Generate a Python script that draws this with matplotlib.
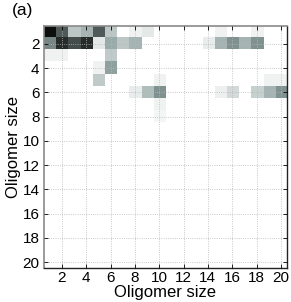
import matplotlib
matplotlib.use("Agg")
import matplotlib.pyplot as plt
import numpy as np
from matplotlib.colors import LinearSegmentedColormap

# sparse heatmap cells: row, column (1-based oligomer size), intensity
cell_rows = [1, 1, 1, 1, 1, 1, 1, 1, 1, 1,
             2, 2, 2, 2, 2, 2, 2, 2, 2, 2, 2, 2, 2,
             3, 3, 3,
             4, 4,
             5, 5, 5, 5,
             6, 6, 6, 6, 6, 6, 6, 6,
             7, 8]
cell_cols = [1, 2, 3, 4, 5, 6, 8, 9, 15, 18,
             1, 2, 3, 4, 5, 6, 7, 8, 14, 15, 16, 17, 18,
             1, 2, 6,
             5, 6,
             5, 10, 19, 20,
             8, 9, 10, 15, 16, 18, 19, 20,
             10, 10]
cell_vals = [0.95, 0.72, 0.30, 0.40, 0.72, 0.30, 0.07, 0.12, 0.07, 0.07,
             0.58, 0.86, 0.76, 0.86, 0.12, 0.45, 0.30, 0.40, 0.10, 0.40, 0.55, 0.40, 0.55,
             0.07, 0.07, 0.28,
             0.07, 0.50,
             0.28, 0.07, 0.07, 0.07,
             0.10, 0.35, 0.55, 0.08, 0.20, 0.25, 0.40, 0.55,
             0.07, 0.05]
n_sizes = 20
tick_vals = list(range(2, 21, 2))

mat = np.zeros((n_sizes, n_sizes))
for r, c, v in zip(cell_rows, cell_cols, cell_vals):
    mat[r - 1, c - 1] = v

cmap = LinearSegmentedColormap.from_list(
    "graygreen", [(0, "white"), (0.5, "#8fa29f"), (1, "black")])

plt.rcParams["font.family"] = ["Liberation Sans", "DejaVu Sans"]

fig = plt.figure(figsize=(2.91, 3.02), dpi=100)
ax = fig.add_axes([0.150, 0.112, 0.836, 0.803])
ax.imshow(mat, cmap=cmap, vmin=0, vmax=1, origin="upper",
          extent=(0.5, n_sizes + 0.5, n_sizes + 0.5, 0.5),
          interpolation="nearest", aspect="auto", zorder=1)

ax.set_xticks(tick_vals)
ax.set_yticks(tick_vals)
ax.tick_params(direction="in", length=3, width=0.6, top=True, right=True,
               labelsize=11, pad=3, colors="black")
ax.tick_params(axis="x", pad=2)
ax.grid(True, linestyle=":", color="#b8b8b8", linewidth=0.6, zorder=2)
ax.set_axisbelow(False)

for side in ("left", "top"):
    ax.spines[side].set_color("#8a8a8a")
    ax.spines[side].set_linewidth(1.2)
for side in ("right", "bottom"):
    ax.spines[side].set_color("#222222")
    ax.spines[side].set_linewidth(1.0)

ax.set_xlabel("Oligomer size", fontsize=12, labelpad=0)
ax.set_ylabel("Oligomer size", fontsize=12, labelpad=1)
fig.text(0.04, 0.965, "(a)", fontsize=12.5, va="center", ha="left")

fig.savefig("out.png", dpi=100)
